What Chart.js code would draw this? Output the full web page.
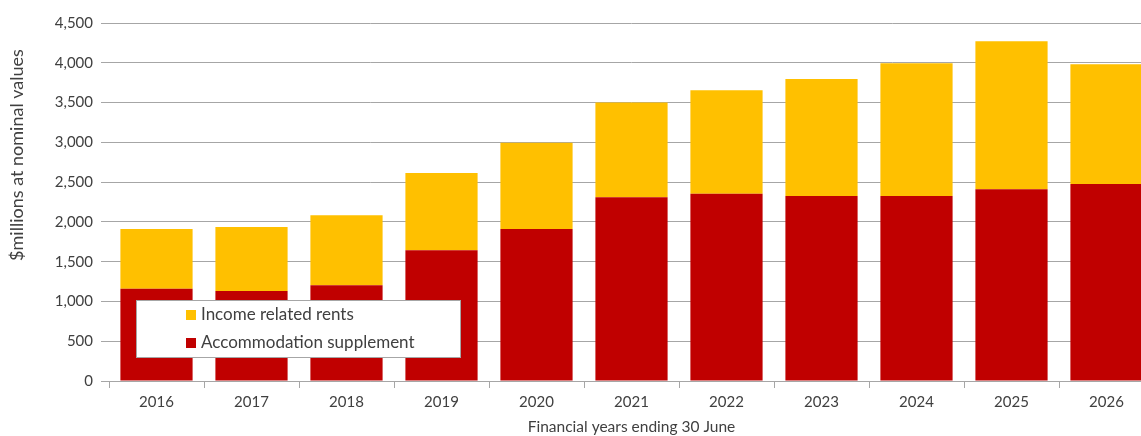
<!DOCTYPE html>
<html>
<head>
<meta charset="utf-8">
<script src="https://cdn.jsdelivr.net/npm/chart.js@4"></script>
<style>
  html, body { margin: 0; padding: 0; background: #fff; overflow: hidden; }
  #wrap { position: relative; width: 1160px; height: 436px; }
</style>
</head>
<body>
<div id="wrap"><canvas id="chart"></canvas></div>
<script>
const years = ['2016', '2017', '2018', '2019', '2020', '2021', '2022', '2023', '2024', '2025', '2026'];
const accommodationSupplement = [1160, 1130, 1205, 1645, 1910, 2310, 2355, 2325, 2325, 2410, 2475];
const incomeRelatedRents = [750, 805, 880, 970, 1085, 1190, 1300, 1470, 1670, 1860, 1505];
const yTicks = [0, 500, 1000, 1500, 2000, 2500, 3000, 3500, 4000, 4500];

const FONT = 'Lato, "Open Sans", sans-serif';
const TEXT = '#404040';

// legend box drawn over the bars in the lower-left of the plot,
// plus the rotated y-axis title, which sits above the axis centre
const overlay = {
  id: 'overlay',
  afterDatasetsDraw(chart) {
    const ctx = chart.ctx;
    const x = 136, y = 300, w = 324, h = 57;
    ctx.save();
    ctx.fillStyle = '#fff';
    ctx.fillRect(x, y, w, h);
    ctx.strokeStyle = '#a6a6a6';
    ctx.lineWidth = 1;
    ctx.strokeRect(x + 0.5, y + 0.5, w, h);
    const items = chart.data.datasets.slice().reverse();
    ctx.font = '17px ' + FONT;
    ctx.textBaseline = 'middle';
    items.forEach((ds, i) => {
      const cy = y + 15 + i * 28;
      ctx.fillStyle = ds.backgroundColor;
      ctx.fillRect(186, cy - 5, 10, 10);
      ctx.fillStyle = TEXT;
      ctx.fillText(ds.label, 201, cy);
    });

    ctx.translate(17, 155);
    ctx.rotate(-Math.PI / 2);
    ctx.textAlign = 'center';
    ctx.font = '18px ' + FONT;
    ctx.fillText('$millions at nominal values', 0, 0);
    ctx.restore();
  }
};

new Chart(document.getElementById('chart'), {
  type: 'bar',
  data: {
    labels: years,
    datasets: [
      { label: 'Accommodation supplement', data: accommodationSupplement, backgroundColor: '#c00000' },
      { label: 'Income related rents', data: incomeRelatedRents, backgroundColor: '#ffc000' }
    ]
  },
  options: {
    responsive: true,
    maintainAspectRatio: false,
    animation: false,
    layout: { padding: { top: 23, left: 0, right: 6, bottom: 0 } },
    datasets: { bar: { categoryPercentage: 1, barPercentage: 0.76 } },
    plugins: { legend: { display: false }, tooltip: { enabled: false } },
    scales: {
      x: {
        stacked: true,
        grid: { display: true, drawOnChartArea: false, tickLength: 7, color: '#a6a6a6', offset: true },
        border: { display: true, color: '#a6a6a6' },
        ticks: { color: TEXT, font: { family: FONT, size: 15 }, padding: 5 },
        title: { display: true, text: 'Financial years ending 30 June', color: TEXT, font: { family: FONT, size: 15.5 }, padding: { top: 1, bottom: 0 } },
        afterFit(scale) { scale.height = 55; }
      },
      y: {
        stacked: true,
        min: 0,
        max: 4500,
        afterBuildTicks(scale) { scale.ticks = yTicks.map(v => ({ value: v })); },
        grid: { color: '#a6a6a6', tickLength: 8, lineWidth: 1 },
        border: { display: false },
        ticks: {
          color: TEXT,
          font: { family: FONT, size: 15 },
          padding: 8,
          callback: v => v.toLocaleString('en-US')
        },
        afterFit(scale) { scale.width = 109; }
      }
    }
  },
  plugins: [overlay]
});
</script>
</body>
</html>
